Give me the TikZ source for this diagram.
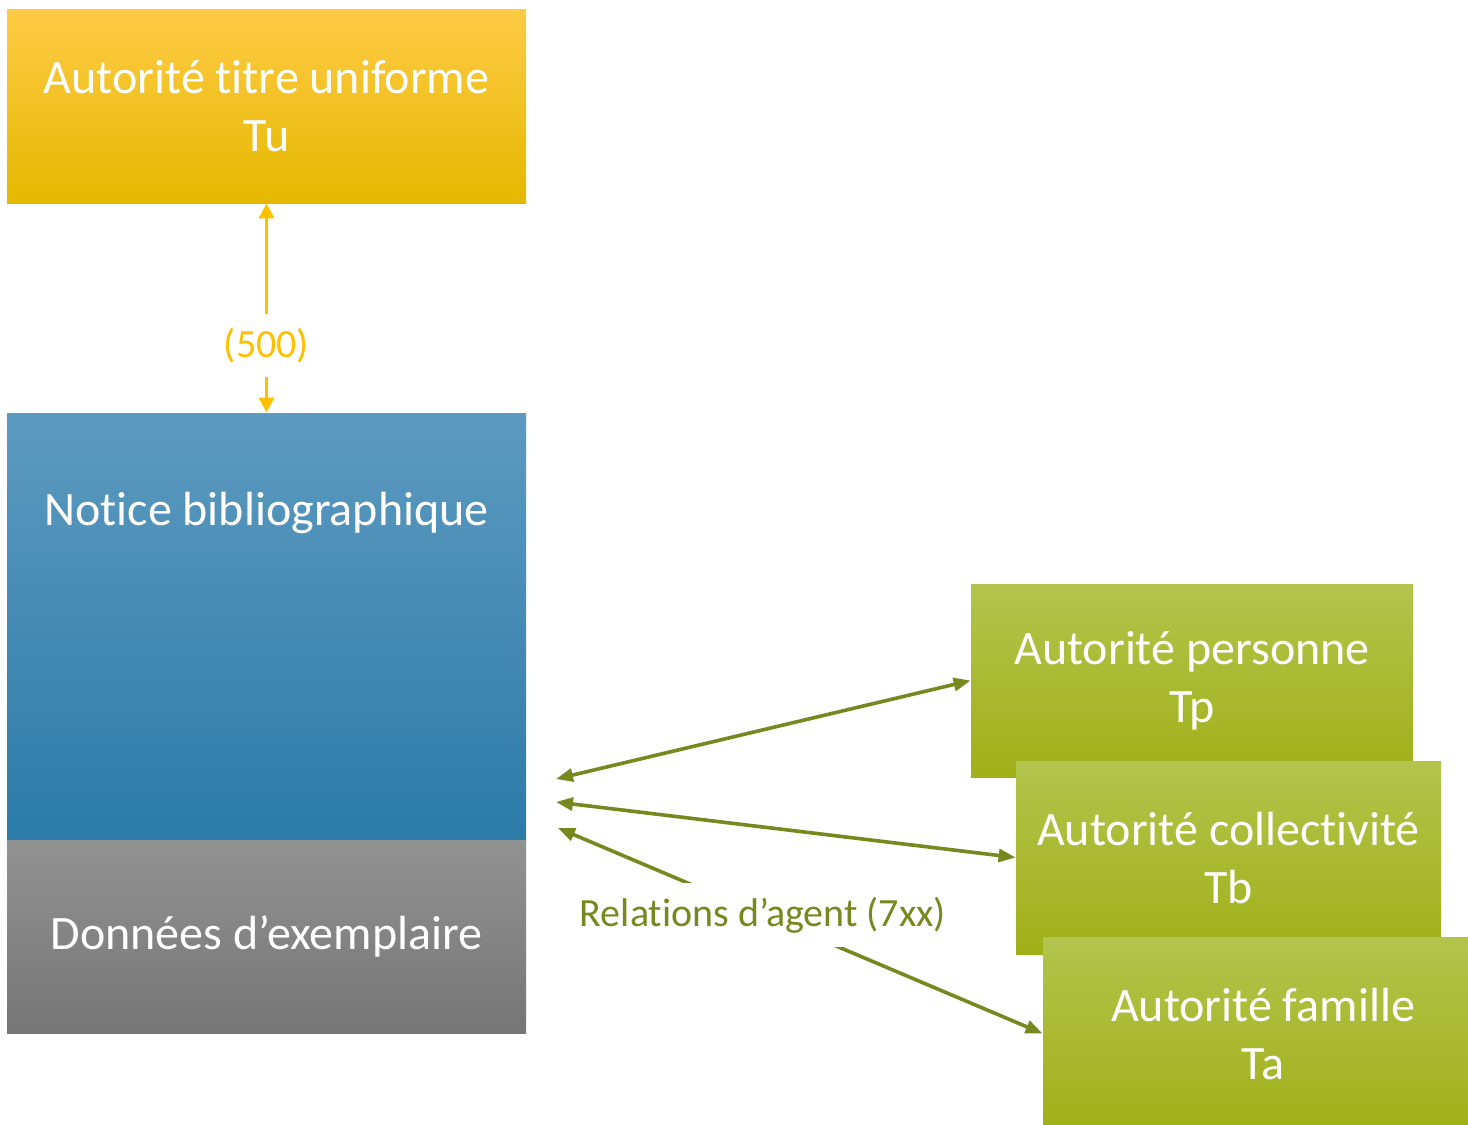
\documentclass[tikz,border=0pt]{standalone}
\usepackage{fontspec}
\setmainfont{Carlito}[Ligatures={NoCommon,NoContextual}, Contextuals=NoAlternate]
\usetikzlibrary{arrows.meta}
\newcommand\nlg{\kern0pt\relax}
\definecolor{yTop}{RGB}{255,203,69}
\definecolor{yMid}{RGB}{255,200,0}
\definecolor{yBot}{RGB}{229,184,0}
\definecolor{bTop}{RGB}{93,154,192}
\definecolor{bMid}{RGB}{64,144,191}
\definecolor{bBot}{RGB}{44,123,168}
\definecolor{gTop}{RGB}{146,146,146}
\definecolor{gBot}{RGB}{118,118,118}
\definecolor{vTop}{RGB}{178,196,76}
\definecolor{vMid}{RGB}{172,190,34}
\definecolor{vBot}{RGB}{160,176,24}
\definecolor{olive}{RGB}{118,136,30}
\definecolor{arrowYellow}{RGB}{255,192,0}
\begin{document}
\begin{tikzpicture}[x=0.5pt,y=-0.5pt,
  box/.style={rectangle, inner sep=0pt, text=white, align=center,
    font=\fontsize{24}{29}\selectfont},
  yellowbox/.style={box, top color=yTop, middle color=yMid, bottom color=yBot},
  bluebox/.style={box, top color=bTop, middle color=bMid, bottom color=bBot},
  graybox/.style={box, top color=gTop, bottom color=gBot},
  greenbox/.style={box, top color=vTop, middle color=vMid, bottom color=vBot},
  boxtext/.style={text=white, align=center, font=\fontsize{24}{29}\selectfont},
  yarrow/.style={draw=arrowYellow, line width=1.8pt, {Triangle[length=7.5pt,width=7.5pt]}-{Triangle[length=7.5pt,width=7.5pt]}},
  garrow/.style={draw=olive, line width=1.8pt, {Triangle[length=8.5pt,width=6.5pt]}-{Triangle[length=8.5pt,width=6.5pt]}},
  lbl/.style={fill=white, inner xsep=3pt, inner ysep=7pt, font=\fontsize{20}{24}\selectfont}
]
\useasboundingbox (0,0) rectangle (1468,1125);

\node[yellowbox, minimum width=259.5pt, minimum height=97pt] (tu) at (266.5,106) {Autorité t\nlg itre uniforme\\Tu};
\node[bluebox, minimum width=259.5pt, minimum height=213.5pt] (notice) at (266.5,626.5) {};
\node[boxtext] (noticetext) at (266.5,513) {Notice bibliographique};
\node[graybox, minimum width=259.5pt, minimum height=96.5pt] (donnees) at (266.5,936.5) {Données d’exemplaire};

\node[greenbox, minimum width=221pt, minimum height=96.5pt] (tp) at (1192,680.5) {Autorité personne\\Tp};
\node[greenbox, minimum width=212.5pt, minimum height=96.5pt] (tb) at (1228.5,857.5) {Autorité collect\nlg ivité\\Tb};
\node[greenbox, minimum width=220pt, minimum height=96.5pt] (ta) at (1263,1033.5) {Autorité famille\\Ta};

\draw[yarrow] (tu.south) -- node[lbl, text=arrowYellow, pos=0.68] (l500) {(500)} (notice.north);

\coordinate (e1) at (556,779);
\coordinate (e2) at (556,802);
\coordinate (e3) at (558,828);
\draw[garrow] (e1) -- (tp.west);
\draw[garrow] (e2) -- (tb.west);
\draw[garrow] (e3) -- (ta.west);
\node[lbl, text=olive] (rel) at (763,915) {Relat\nlg ions d’agent (7xx)};
\end{tikzpicture}
\end{document}
